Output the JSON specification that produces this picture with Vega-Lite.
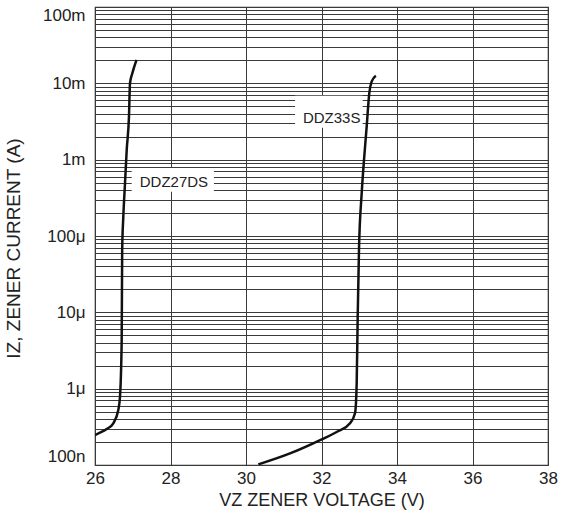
{
  "$schema": "https://vega.github.io/schema/vega-lite/v6.json",
  "autosize": {"type": "none"},
  "padding": {"left": 95, "top": 7, "right": 13, "bottom": 55},
  "width": 453,
  "height": 458,
  "background": "white",
  "config": {
    "view": {"stroke": "#333333", "strokeWidth": 1.2},
    "font": "Liberation Sans",
    "axis": {
      "domain": false,
      "ticks": false,
      "grid": true,
      "gridColor": "#3a3a3a",
      "gridWidth": 1,
      "gridOpacity": 1,
      "labelFont": "Liberation Sans",
      "labelFontSize": 17,
      "labelColor": "#222222",
      "titleFont": "Liberation Sans",
      "titleFontSize": 18,
      "titleFontWeight": "normal",
      "titleColor": "#222222",
      "labelOverlap": false
    }
  },
  "datasets": {
    "curves": [
      {"series": "DDZ27DS", "V": 26.0, "I": 2.47e-7},
      {"series": "DDZ27DS", "V": 26.13, "I": 2.65e-7},
      {"series": "DDZ27DS", "V": 26.31, "I": 2.96e-7},
      {"series": "DDZ27DS", "V": 26.485, "I": 3.52e-7},
      {"series": "DDZ27DS", "V": 26.617, "I": 5.26e-7},
      {"series": "DDZ27DS", "V": 26.662, "I": 7.85e-7},
      {"series": "DDZ27DS", "V": 26.707, "I": 4.35e-6},
      {"series": "DDZ27DS", "V": 26.72, "I": 6.58e-5},
      {"series": "DDZ27DS", "V": 26.75, "I": 1.79e-4},
      {"series": "DDZ27DS", "V": 26.795, "I": 4.92e-4},
      {"series": "DDZ27DS", "V": 26.84, "I": 1.34e-3},
      {"series": "DDZ27DS", "V": 26.9, "I": 3.67e-3},
      {"series": "DDZ27DS", "V": 26.927, "I": 1.0e-2},
      {"series": "DDZ27DS", "V": 26.99, "I": 1.36e-2},
      {"series": "DDZ27DS", "V": 27.1, "I": 2.03e-2},
      {"series": "DDZ33S", "V": 30.326, "I": 1.02e-7},
      {"series": "DDZ33S", "V": 31.166, "I": 1.42e-7},
      {"series": "DDZ33S", "V": 32.005, "I": 2.17e-7},
      {"series": "DDZ33S", "V": 32.45, "I": 2.79e-7},
      {"series": "DDZ33S", "V": 32.755, "I": 3.52e-7},
      {"series": "DDZ33S", "V": 32.887, "I": 4.76e-7},
      {"series": "DDZ33S", "V": 32.913, "I": 6.44e-7},
      {"series": "DDZ33S", "V": 32.932, "I": 1.18e-6},
      {"series": "DDZ33S", "V": 32.959, "I": 8.79e-6},
      {"series": "DDZ33S", "V": 32.993, "I": 6.58e-5},
      {"series": "DDZ33S", "V": 33.065, "I": 3.64e-4},
      {"series": "DDZ33S", "V": 33.126, "I": 9.93e-4},
      {"series": "DDZ33S", "V": 33.197, "I": 2.72e-3},
      {"series": "DDZ33S", "V": 33.266, "I": 7.45e-3},
      {"series": "DDZ33S", "V": 33.33, "I": 1.06e-2},
      {"series": "DDZ33S", "V": 33.44, "I": 1.26e-2}
    ],
    "labels": [
      {"series": "DDZ27DS", "V1": 26.972, "V2": 29.15, "I1": 3.79e-4, "I2": 7.8e-4, "Vt": 28.09, "It": 5.16e-4},
      {"series": "DDZ33S", "V1": 31.3, "V2": 33.09, "I1": 2.61e-3, "I2": 6.86e-3, "Vt": 32.27, "It": 3.53e-3}
    ]
  },
  "layer": [
    {
      "data": {"name": "labels"},
      "mark": {"type": "rect", "fill": "white", "stroke": null},
      "encoding": {
        "x": {
          "field": "V1",
          "type": "quantitative",
          "scale": {"domain": [26, 38], "nice": false, "zero": false},
          "axis": {
            "values": [26, 28, 30, 32, 34, 36, 38],
            "labelPadding": 5,
            "labelFlush": false,
            "title": "VZ ZENER VOLTAGE (V)",
            "titlePadding": 5
          }
        },
        "x2": {"field": "V2"},
        "y": {
          "field": "I1",
          "type": "quantitative",
          "scale": {"type": "log", "domain": [1e-7, 0.1], "nice": false},
          "axis": {
            "values": [
              1e-7, 2e-7, 3e-7, 4e-7, 5e-7, 6e-7, 7e-7, 8e-7, 9e-7,
              1e-6, 2e-6, 3e-6, 4e-6, 5e-6, 6e-6, 7e-6, 8e-6, 9e-6,
              1e-5, 2e-5, 3e-5, 4e-5, 5e-5, 6e-5, 7e-5, 8e-5, 9e-5,
              1e-4, 2e-4, 3e-4, 4e-4, 5e-4, 6e-4, 7e-4, 8e-4, 9e-4,
              1e-3, 2e-3, 3e-3, 4e-3, 5e-3, 6e-3, 7e-3, 8e-3, 9e-3,
              1e-2, 2e-2, 3e-2, 4e-2, 5e-2, 6e-2, 7e-2, 8e-2, 9e-2,
              1e-1
            ],
            "labelExpr": "abs(log(datum.value)/LN10 - round(log(datum.value)/LN10)) < 0.01 ? ['100n','1μ','10μ','100μ','1m','10m','100m'][round(log(datum.value)/LN10) + 7] : ''",
            "labelPadding": 10,
            "labelFlush": true,
            "title": "IZ, ZENER CURRENT (A)",
            "titleFontSize": 19,
            "titlePadding": 19,
            "titleY": 241
          }
        },
        "y2": {"field": "I2"}
      }
    },
    {
      "data": {"name": "labels"},
      "mark": {"type": "text", "fontSize": 15, "font": "Liberation Sans", "color": "#222222", "align": "center", "baseline": "middle"},
      "encoding": {
        "x": {"field": "Vt", "type": "quantitative"},
        "y": {"field": "It", "type": "quantitative"},
        "text": {"field": "series"}
      }
    },
    {
      "data": {"name": "curves"},
      "mark": {"type": "line", "color": "#111111", "strokeWidth": 2.5, "interpolate": "monotone", "clip": true},
      "encoding": {
        "x": {"field": "V", "type": "quantitative"},
        "y": {"field": "I", "type": "quantitative"},
        "detail": {"field": "series"}
      }
    }
  ]
}
